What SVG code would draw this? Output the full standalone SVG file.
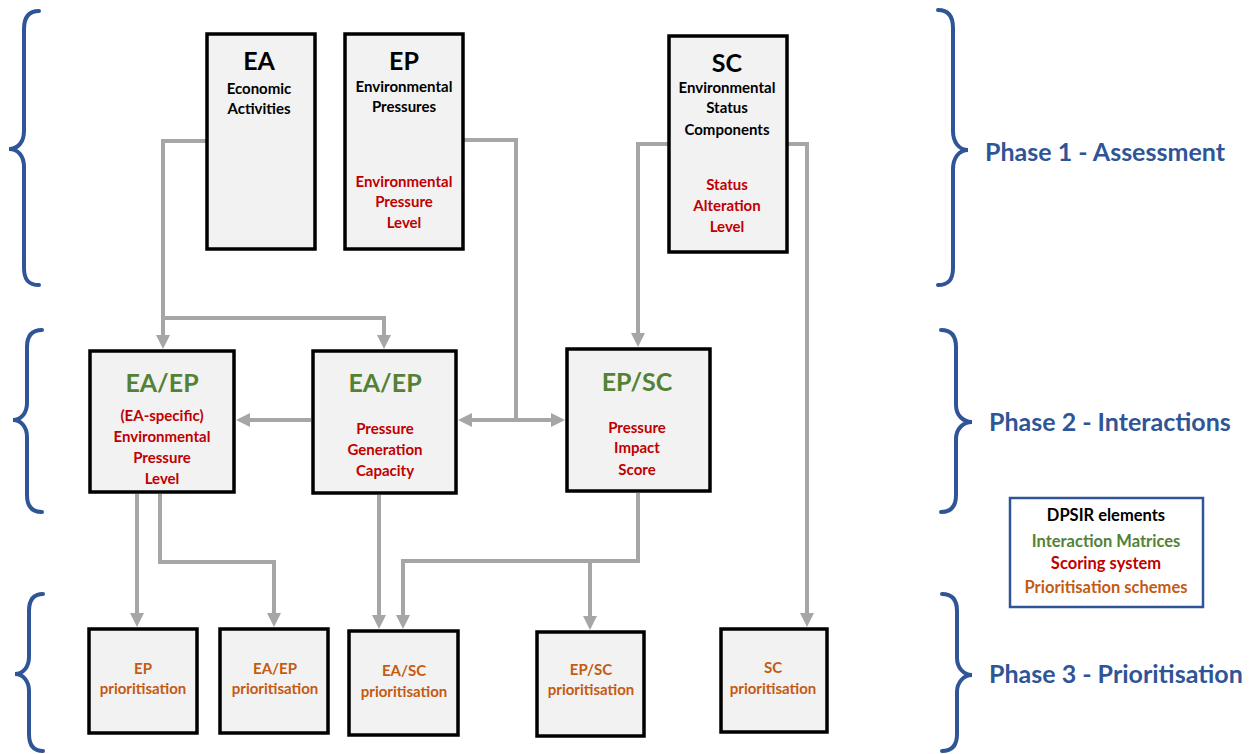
<svg xmlns="http://www.w3.org/2000/svg" width="1253" height="754" viewBox="0 0 1253 754">
<defs>
<style>
text{font-family:Lato,"Open Sans","Liberation Sans",sans-serif;font-weight:bold;text-anchor:middle}
.box{fill:#F2F2F2;stroke:#000;stroke-width:3.5}
.con{fill:none;stroke:#A6A6A6;stroke-width:4}
.brace{fill:none;stroke:#2F5597;stroke-width:4;stroke-linecap:round}
.h{font-size:25px;fill:#000}
.hg{font-size:25px;fill:#548235}
.b{font-size:15px;fill:#000}
.r{font-size:15px;fill:#C00000}
.o{font-size:15px;fill:#C55A11}
.ph{font-size:25px;fill:#2F5597;text-anchor:start}
.lg{font-size:16.5px}
</style>
<marker id="arr" viewBox="0 0 14 14" markerWidth="14" markerHeight="14" markerUnits="userSpaceOnUse" refX="10" refY="7" orient="auto-start-reverse">
<path d="M0,0 L14,7 L0,14 z" fill="#A6A6A6"/>
</marker>
</defs>
<rect width="1253" height="754" fill="#fff"/>

<g id="braces">
<path class="brace" d="M39,11 C29,11 24,17 24,29 V131 C24,142 18,149 9,149 C18,149 24,156 24,167 V268 C24,280 29,285 39,285"/>
<path class="brace" d="M42,330 C32,330 27,336 27,347 V403 C27,413 21,420 13,420 C21,420 27,427 27,437 V495 C27,506 32,512 42,512"/>
<path class="brace" d="M43,594 C33,594 29,600 29,611 V657 C29,667 23,674 15,674 C23,674 29,681 29,691 V734 C29,745 33,751 43,751"/>
<path class="brace" d="M938,10 C948,10 953,16 953,28 V131 C953,142 959,150 968,150 C959,150 953,158 953,169 V268 C953,280 948,285 938,285"/>
<path class="brace" d="M941,330 C951,330 956,336 956,347 V405 C956,415 963,422 972,422 C963,422 956,429 956,439 V495 C956,506 951,512 941,512"/>
<path class="brace" d="M942,594 C952,594 957,600 957,611 V658 C957,668 964,675 972,675 C964,675 957,682 957,692 V734 C957,745 952,751 942,751"/>
</g>

<g id="phase-labels">
<text class="ph" x="985" y="161">Phase 1 - Assessment</text>
<text class="ph" x="989" y="431">Phase 2 - Interactions</text>
<text class="ph" x="989" y="683">Phase 3 - Prioritisation</text>
</g>

<g id="connectors">
<path class="con" d="M207,141 H163 V345" marker-end="url(#arr)"/>
<path class="con" d="M163,318 H384 V345" marker-end="url(#arr)"/>
<path class="con" d="M311,420 H240" marker-end="url(#arr)"/>
<path class="con" d="M463,140 H516 V420"/>
<path class="con" d="M462,420 H561" marker-start="url(#arr)" marker-end="url(#arr)"/>
<path class="con" d="M669,144 H638 V343" marker-end="url(#arr)"/>
<path class="con" d="M787,144 H807 V623" marker-end="url(#arr)"/>
<path class="con" d="M137,494 V623" marker-end="url(#arr)"/>
<path class="con" d="M160,494 V562 H274 V623" marker-end="url(#arr)"/>
<path class="con" d="M379,495 V625" marker-end="url(#arr)"/>
<path class="con" d="M638,493 V561 H403 V625" marker-end="url(#arr)"/>
<path class="con" d="M590,561 V626" marker-end="url(#arr)"/>
</g>

<g id="EA">
<rect class="box" x="207" y="34" width="108" height="215"/>
<text class="h" x="259" y="70">EA</text>
<text class="b" x="259" y="94">Economic</text>
<text class="b" x="259" y="114">Activities</text>
</g>

<g id="EP">
<rect class="box" x="345" y="34" width="118" height="215"/>
<text class="h" x="404" y="70">EP</text>
<text class="b" x="404" y="92">Environmental</text>
<text class="b" x="404" y="112">Pressures</text>
<text class="r" x="404" y="187">Environmental</text>
<text class="r" x="404" y="207">Pressure</text>
<text class="r" x="404" y="228">Level</text>
</g>

<g id="SC">
<rect class="box" x="669" y="36" width="118" height="216"/>
<text class="h" x="727" y="72">SC</text>
<text class="b" x="727" y="93">Environmental</text>
<text class="b" x="727" y="113">Status</text>
<text class="b" x="727" y="135">Components</text>
<text class="r" x="727" y="190">Status</text>
<text class="r" x="727" y="211">Alteration</text>
<text class="r" x="727" y="232">Level</text>
</g>

<g id="EAEP-level">
<rect class="box" x="90" y="351" width="144" height="141"/>
<text class="hg" x="162" y="392">EA/EP</text>
<text class="r" x="162" y="421">(EA-specific)</text>
<text class="r" x="162" y="442">Environmental</text>
<text class="r" x="162" y="463">Pressure</text>
<text class="r" x="162" y="484">Level</text>
</g>

<g id="EAEP-capacity">
<rect class="box" x="313" y="351" width="143" height="142"/>
<text class="hg" x="385" y="392">EA/EP</text>
<text class="r" x="385" y="434">Pressure</text>
<text class="r" x="385" y="455">Generation</text>
<text class="r" x="385" y="476">Capacity</text>
</g>

<g id="EPSC-score">
<rect class="box" x="567" y="349" width="143" height="142"/>
<text class="hg" x="637" y="391">EP/SC</text>
<text class="r" x="637" y="433">Pressure</text>
<text class="r" x="637" y="453">Impact</text>
<text class="r" x="637" y="475">Score</text>
</g>

<g id="EP-prio">
<rect class="box" x="89" y="629" width="108" height="104"/>
<text class="o" x="143" y="674">EP</text>
<text class="o" x="143" y="694">prioritisation</text>
</g>

<g id="EAEP-prio">
<rect class="box" x="220" y="629" width="108" height="104"/>
<text class="o" x="275" y="674">EA/EP</text>
<text class="o" x="275" y="694">prioritisation</text>
</g>

<g id="EASC-prio">
<rect class="box" x="349" y="631" width="109" height="104"/>
<text class="o" x="404" y="676">EA/SC</text>
<text class="o" x="404" y="697">prioritisation</text>
</g>

<g id="EPSC-prio">
<rect class="box" x="537" y="632" width="107" height="104"/>
<text class="o" x="591" y="675">EP/SC</text>
<text class="o" x="591" y="695">prioritisation</text>
</g>

<g id="SC-prio">
<rect class="box" x="721" y="629" width="106" height="103"/>
<text class="o" x="773" y="673">SC</text>
<text class="o" x="773" y="694">prioritisation</text>
</g>

<g id="legend">
<rect x="1010" y="498" width="193" height="109" fill="#fff" stroke="#2F5597" stroke-width="2.5"/>
<text class="lg" x="1106" y="521" fill="#000">DPSIR elements</text>
<text class="lg" x="1106" y="547" fill="#548235">Interaction Matrices</text>
<text class="lg" x="1106" y="569" fill="#C00000">Scoring system</text>
<text class="lg" x="1106" y="593" fill="#C55A11">Prioritisation schemes</text>
</g>
</svg>
